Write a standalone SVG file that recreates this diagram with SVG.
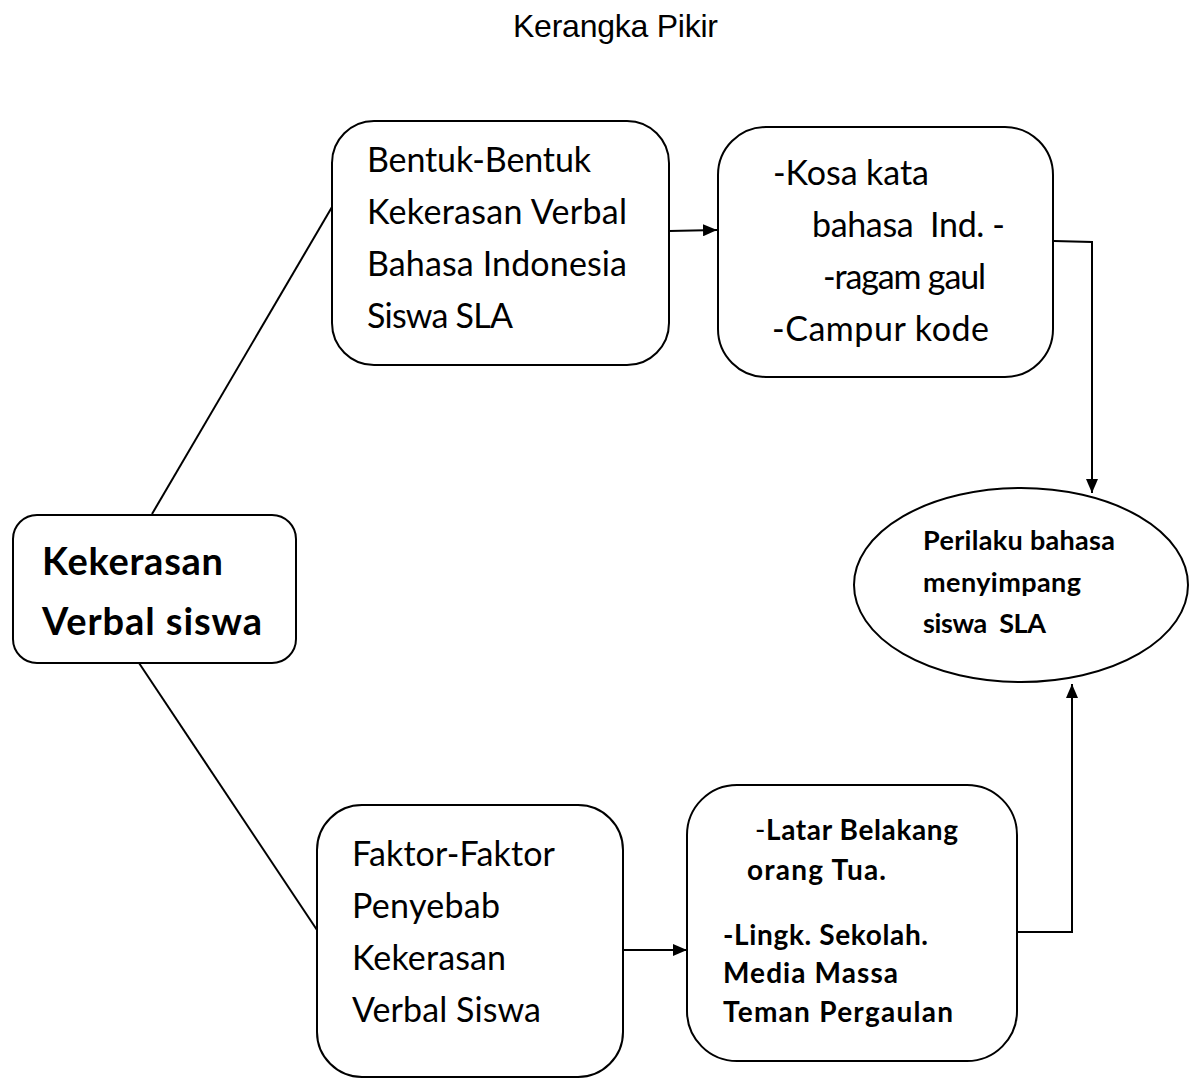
<svg xmlns="http://www.w3.org/2000/svg" width="1190" height="1079" viewBox="0 0 1190 1079">
<style>
.box{fill:#fff;stroke:#000;stroke-width:2}
.con{fill:none;stroke:#000;stroke-width:2}
.reg{font-family:Lato,"Open Sans","Liberation Sans",sans-serif;font-size:34px;fill:#000}
.bold{font-family:Lato,"Open Sans","Liberation Sans",sans-serif;font-weight:bold;fill:#000}
.title{font-family:"Liberation Sans",Arial,sans-serif;font-size:32px;fill:#000}
</style>
<defs>
<marker id="arr" markerWidth="14" markerHeight="12" refX="14" refY="6" orient="auto" markerUnits="userSpaceOnUse">
<path d="M0,0 L14,6 L0,12 Z" fill="#000"/>
</marker>
</defs>
<rect width="1190" height="1079" fill="#fff"/>
<text class="title" x="513" y="37" textLength="205">Kerangka Pikir</text>

<g id="connectors">
<line class="con" x1="332" y1="207" x2="152" y2="514"/>
<line class="con" x1="139" y1="663" x2="317" y2="930"/>
<line class="con" x1="669" y1="231" x2="717" y2="230" marker-end="url(#arr)"/>
<polyline class="con" points="1054,241 1092,242 1092,493" marker-end="url(#arr)"/>
<line class="con" x1="623" y1="950" x2="687" y2="950" marker-end="url(#arr)"/>
<polyline class="con" points="1017,932 1072,932 1072,684" marker-end="url(#arr)"/>
</g>

<g id="node-bentuk">
<rect class="box" x="332" y="121" width="337" height="244" rx="42" ry="42"/>
<text class="reg" x="367" y="172" textLength="224">Bentuk-Bentuk</text>
<text class="reg" x="367" y="224" textLength="260">Kekerasan Verbal</text>
<text class="reg" x="367" y="276" textLength="260">Bahasa Indonesia</text>
<text class="reg" x="367" y="328" textLength="146">Siswa SLA</text>
</g>

<g id="node-kosakata">
<rect class="box" x="718" y="127" width="335" height="250" rx="48" ry="48"/>
<text class="reg" x="773" y="185" textLength="156">-Kosa kata</text>
<text class="reg" x="812" y="237" textLength="193" xml:space="preserve">bahasa  Ind. -</text>
<text class="reg" x="823" y="289" textLength="163">-ragam gaul</text>
<text class="reg" x="772" y="341" textLength="217">-Campur kode</text>
</g>

<g id="node-kekerasan">
<rect class="box" x="13" y="515" width="283" height="148" rx="24" ry="24"/>
<text class="bold" x="42" y="575" font-size="38" textLength="181">Kekerasan</text>
<text class="bold" x="42" y="635" font-size="38" textLength="220">Verbal siswa</text>
</g>

<g id="node-perilaku">
<ellipse class="box" cx="1021" cy="585" rx="167" ry="97"/>
<text class="bold" x="923" y="550" font-size="27" textLength="192">Perilaku bahasa</text>
<text class="bold" x="923" y="592" font-size="27" textLength="158">menyimpang</text>
<text class="bold" x="923" y="633" font-size="27" textLength="123" xml:space="preserve">siswa  SLA</text>
</g>

<g id="node-faktor">
<rect class="box" x="317" y="805" width="306" height="272" rx="45" ry="45"/>
<text class="reg" x="352" y="866" textLength="203">Faktor-Faktor</text>
<text class="reg" x="352" y="918" textLength="148">Penyebab</text>
<text class="reg" x="352" y="970" textLength="154">Kekerasan</text>
<text class="reg" x="352" y="1022" textLength="189">Verbal Siswa</text>
</g>

<g id="node-latar">
<rect class="box" x="687" y="785" width="330" height="276" rx="50" ry="50"/>
<text class="bold" x="755" y="840" font-size="28" textLength="203"><tspan font-weight="normal">-</tspan>Latar Belakang</text>
<text class="bold" x="747" y="880" font-size="28" textLength="139">orang Tua.</text>
<text class="bold" x="723" y="945" font-size="28" textLength="205">-Lingk. Sekolah.</text>
<text class="bold" x="723" y="983" font-size="28" textLength="175">Media Massa</text>
<text class="bold" x="723" y="1022" font-size="28" textLength="230">Teman Pergaulan</text>
</g>
</svg>
